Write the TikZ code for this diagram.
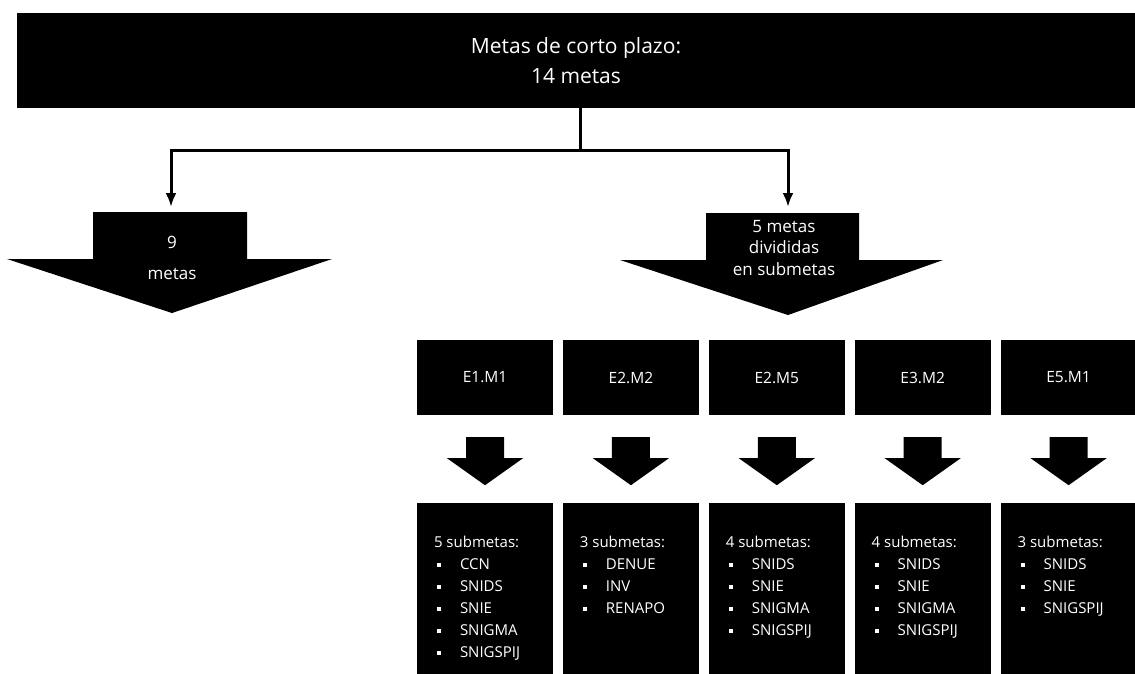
\documentclass[tikz,border=0pt]{standalone}
\usepackage{fontspec}
\setmainfont{Open Sans}
\usepackage{tikz}
\usetikzlibrary{positioning, arrows.meta}

\newcommand{\subhead}[1]{\vspace*{33pt}\hspace*{17pt}#1}
\newcommand{\bulletline}[1]{\par\hspace*{20pt}\raisebox{3pt}{\rule{4pt}{4pt}}\hspace{19pt}#1}

\begin{document}
\begin{tikzpicture}[x=1pt, y=-1pt]
    \tikzstyle{bar} = [rectangle, fill=black, text=white, align=center, minimum width=1118pt, minimum height=95pt, font=\fontsize{21}{30}\selectfont]
    \tikzstyle{arrowtext} = [text=white, align=center, inner sep=0pt]
    \tikzstyle{goalbox} = [rectangle, fill=black, text=white, minimum width=136pt, minimum height=75pt, font=\fontsize{15.5}{18}\selectfont]
    \tikzstyle{subbox} = [rectangle, fill=black, text=white, inner sep=0pt, anchor=north, font=\fontsize{15}{22}\selectfont]
    \tikzstyle{link} = [line width=3pt, draw=black]
    \useasboundingbox (0,0) rectangle (1135,673);

    \node (plazo) [bar] at (576,60.5) {Metas de corto plazo:\\14 metas};

    % branching under the bar
    \coordinate (split) at (580,150);
    \coordinate (nineTop) at (171,207);
    \coordinate (fiveTop) at (788,207);
    \draw[link] (plazo.south -| split) -- (split);
    \draw[link, -{Latex[length=14pt,width=11pt]}] (split) -| (nineTop);
    \draw[link, -{Latex[length=14pt,width=11pt]}] (split) -| (fiveTop);

    % the two big block arrows
    \fill (93,212) -- (247,212) -- (247,259) -- (332,259) -- (172,313) -- (7,259) -- (93,259) -- cycle;
    \node (nine) [arrowtext, font=\fontsize{17}{31}\selectfont] at (172,258) {9\\metas};
    \fill (706,213) -- (859,213) -- (859,260) -- (943,260) -- (788,315) -- (620,260) -- (706,260) -- cycle;
    \node (five) [arrowtext, font=\fontsize{17}{21.5}\selectfont] at (784,248) {5 metas\\divididas\\en submetas};

    \node (e1m1) [goalbox] at (485,377.5) {E1.M1};
    \node (e2m2) [goalbox, right=9.5pt of e1m1] {E2.M2};
    \node (e2m5) [goalbox, right=9.5pt of e2m2] {E2.M5};
    \node (e3m2) [goalbox, right=9.5pt of e2m5] {E3.M2};
    \node (e5m1) [goalbox, right=9.5pt of e3m2] {E5.M1};

    % small down arrows
    \foreach \g in {e1m1, e2m2, e2m5, e3m2, e5m1} {
        \begin{scope}[shift={(\g.south)}]
            \fill (-19,22) -- (19,22) -- (19,43) -- (38,43) -- (0,70) -- (-38,43) -- (-19,43) -- cycle;
        \end{scope}
    }

    \node (sub1) [subbox, below=88pt of e1m1] {\parbox[t][200pt][t]{136pt}{\subhead{5 submetas:}
        \bulletline{CCN}\bulletline{SNIDS}\bulletline{SNIE}\bulletline{SNIGMA}\bulletline{SNIGSPIJ}}};
    \node (sub2) [subbox, below=88pt of e2m2] {\parbox[t][200pt][t]{136pt}{\subhead{3 submetas:}
        \bulletline{DENUE}\bulletline{INV}\bulletline{RENAPO}}};
    \node (sub3) [subbox, below=88pt of e2m5] {\parbox[t][200pt][t]{136pt}{\subhead{4 submetas:}
        \bulletline{SNIDS}\bulletline{SNIE}\bulletline{SNIGMA}\bulletline{SNIGSPIJ}}};
    \node (sub4) [subbox, below=88pt of e3m2] {\parbox[t][200pt][t]{136pt}{\subhead{4 submetas:}
        \bulletline{SNIDS}\bulletline{SNIE}\bulletline{SNIGMA}\bulletline{SNIGSPIJ}}};
    \node (sub5) [subbox, below=88pt of e5m1] {\parbox[t][200pt][t]{136pt}{\subhead{3 submetas:}
        \bulletline{SNIDS}\bulletline{SNIE}\bulletline{SNIGSPIJ}}};
\end{tikzpicture}
\end{document}
